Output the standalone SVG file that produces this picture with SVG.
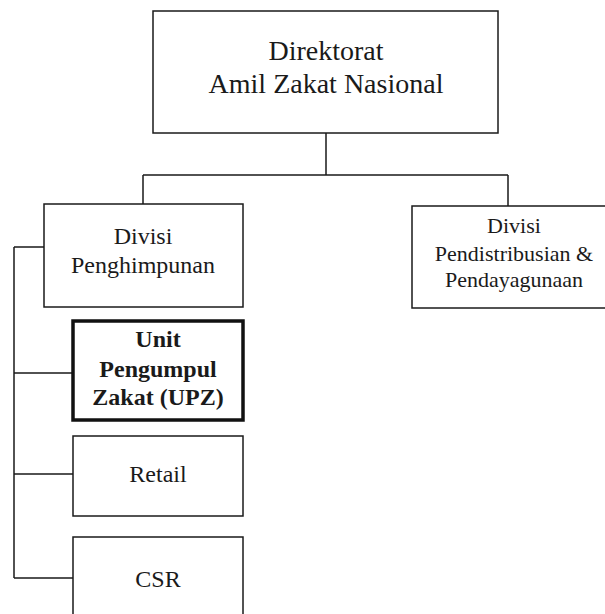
<svg xmlns="http://www.w3.org/2000/svg" width="605" height="614" viewBox="0 0 605 614">
<style>
.box{fill:#fff;stroke:#1a1a1a;stroke-width:1.5}
.thick{fill:#fff;stroke:#111;stroke-width:3.5}
.line{fill:none;stroke:#1a1a1a;stroke-width:1.5}
text{font-family:"Liberation Serif","Times New Roman",serif;fill:#1a1a1a;text-anchor:middle}
.t28{font-size:28px}
.t24{font-size:24px}
.t22{font-size:22px}
.b{font-weight:bold}
</style>
<rect width="605" height="614" fill="#fff"/>
<g id="connectors">
<path class="line" d="M326 133V175M143 175H508M143 175V204M508 175V206"/>
<path class="line" d="M14 247V578M14 247H44M14 373H73M14 474H73M14 578H73"/>
</g>
<g id="direktorat">
<rect class="box" x="153" y="11" width="345" height="122"/>
<text class="t28" x="326" y="60">Direktorat</text>
<text class="t28" x="326" y="93">Amil Zakat Nasional</text>
</g>
<g id="divisi-penghimpunan">
<rect class="box" x="44" y="204" width="199" height="103"/>
<text class="t24" x="143" y="244">Divisi</text>
<text class="t24" x="143" y="273">Penghimpunan</text>
</g>
<g id="divisi-pendistribusian">
<rect class="box" x="412" y="206" width="210" height="102"/>
<text class="t22" x="514" y="233">Divisi</text>
<text class="t22" x="514" y="261">Pendistribusian &amp;</text>
<text class="t22" x="514" y="287">Pendayagunaan</text>
</g>
<g id="upz">
<rect class="thick" x="73" y="321" width="170" height="99"/>
<text class="t24 b" x="158" y="347">Unit</text>
<text class="t24 b" x="158" y="377">Pengumpul</text>
<text class="t24 b" x="158" y="405">Zakat (UPZ)</text>
</g>
<g id="retail">
<rect class="box" x="73" y="436" width="170" height="80"/>
<text class="t24" x="158" y="482">Retail</text>
</g>
<g id="csr">
<rect class="box" x="73" y="537" width="170" height="90"/>
<text class="t24" x="158" y="587">CSR</text>
</g>
</svg>
